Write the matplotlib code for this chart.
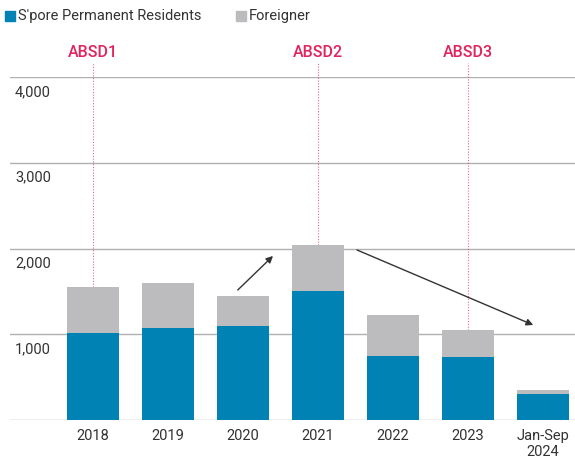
import matplotlib
matplotlib.use('Agg')
import matplotlib.pyplot as plt
import matplotlib.transforms as mtransforms
from matplotlib.patches import Rectangle

plt.rcParams['font.family'] = ['Roboto', 'DejaVu Sans']

# data
years = ['2018', '2019', '2020', '2021', '2022', '2023', 'Jan-Sep\n2024']
pr = [1015, 1073, 1096, 1504, 746, 735, 303]          # S'pore Permanent Residents
foreigner = [536, 525, 350, 537, 478, 315, 47]
yticks = [1000, 2000, 3000, 4000]
absd_labels = ['ABSD1', 'ABSD2', 'ABSD3']
absd_idx = [0, 3, 5]

blue = '#0082b5'
grey = '#bcbcbf'
pink = '#e0245e'
txt = '#333333'

fig = plt.figure(figsize=(5.75, 4.62), dpi=100)
ax = fig.add_axes([10/575, 42/462, 565/575, 343/462])

x = list(range(len(years)))
ax.bar(x, pr, width=0.7, color=blue, zorder=3)
ax.bar(x, foreigner, width=0.7, bottom=pr, color=grey, zorder=3)

ax.set_xlim(-1.107, 6.427)
ax.set_ylim(0, 4000)
for s in ax.spines.values():
    s.set_visible(False)
ax.set_xticks([])
ax.set_yticks([])

# gridlines + labels under them
for v in [0] + yticks:
    ax.axhline(v, color='#b0b0b0', lw=1, zorder=1)
trans = mtransforms.blended_transform_factory(ax.transAxes, ax.transData)
off = mtransforms.offset_copy(trans, fig=fig, x=0, y=-8, units='dots')
for v in yticks:
    ax.text(5/565, v, f'{v:,}', transform=off, ha='left', va='top',
            fontsize=10.5, color=txt)

# x labels
for i, y in enumerate(years):
    ax.text(i, -110, y, ha='center', va='top', fontsize=10.5, color=txt,
            linespacing=1.1, clip_on=False)

# ABSD markers
tot = [a + b for a, b in zip(pr, foreigner)]
for lab, i in zip(absd_labels, absd_idx):
    ax.plot([i, i], [tot[i], 4165], color=pink, lw=0.8, ls=(0, (1, 1.5)),
            alpha=0.7, zorder=2, clip_on=False)
    ax.text(i, 4290, lab, ha='center', va='center', fontsize=11.5,
            fontweight='medium', color=pink, clip_on=False)

# trend arrows
arr = dict(arrowstyle='-|>', color='#333333', lw=1, mutation_scale=10,
           shrinkA=0, shrinkB=0)
ax.annotate('', xy=(2.4, 1913), xytext=(1.93, 1516), arrowprops=arr, zorder=4)
ax.annotate('', xy=(5.87, 1108), xytext=(3.52, 1983), arrowprops=arr, zorder=4)

# legend
fig.patches.append(Rectangle((5/575, 1-21/462), 10/575, 10/462,
                             transform=fig.transFigure, color=blue))
fig.text(18/575, 1-16/462, "S'pore Permanent Residents", va='center',
         fontsize=10.5, color=txt)
fig.patches.append(Rectangle((236/575, 1-21/462), 10/575, 10/462,
                             transform=fig.transFigure, color=grey))
fig.text(249/575, 1-16/462, 'Foreigner', va='center', fontsize=10.5, color=txt)

fig.savefig('out.png', dpi=100)
